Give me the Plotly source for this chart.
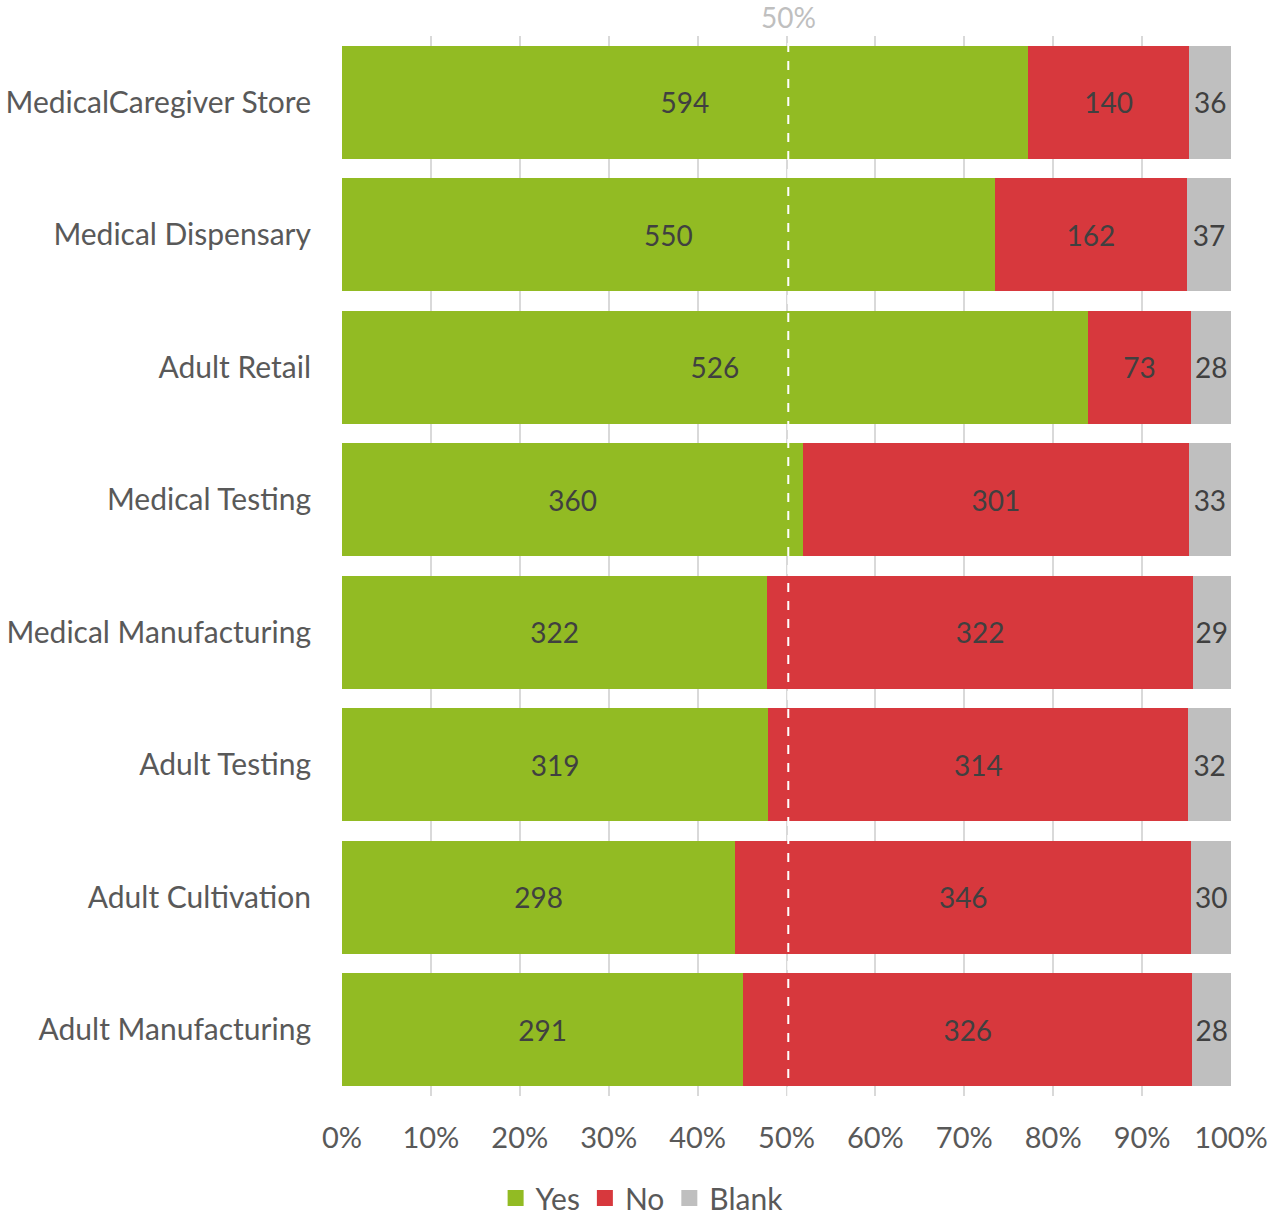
import plotly.graph_objects as go

categories = ["MedicalCaregiver Store", "Medical Dispensary", "Adult Retail", "Medical Testing",
              "Medical Manufacturing", "Adult Testing", "Adult Cultivation", "Adult Manufacturing"]
yes_vals = [594, 550, 526, 360, 322, 319, 298, 291]
no_vals = [140, 162, 73, 301, 322, 314, 346, 326]
blank_vals = [36, 37, 28, 33, 29, 32, 30, 28]
x_ticks = [0, 10, 20, 30, 40, 50, 60, 70, 80, 90, 100]
x_tick_labels = [f"{t}%" for t in x_ticks]

FONT = "Lato, 'Open Sans', sans-serif"
series = [("Yes", yes_vals, "#92BB23"), ("No", no_vals, "#D7383D"), ("Blank", blank_vals, "#BFBFBF")]

fig = go.Figure()
for name, vals, color in series:
    fig.add_trace(go.Bar(
        y=categories, x=vals, name=name, orientation="h",
        marker=dict(color=color, line=dict(width=0)),
        text=[str(v) for v in vals], textposition="inside", insidetextanchor="middle",
        textangle=0, constraintext="none",
        textfont=dict(family=FONT, size=28, color="#404040"),
        hoverinfo="x+y+name", showlegend=False, legendgroup=name,
    ))
# legend entries with larger square swatches
for name, vals, color in series:
    fig.add_trace(go.Scatter(
        x=[None], y=[None], mode="markers", name=name, legendgroup=name,
        marker=dict(symbol="square", size=16, color=color), showlegend=True,
    ))

fig.add_shape(type="line", xref="x", yref="paper", x0=50.2, x1=50.2, y0=0, y1=1,
              line=dict(color="white", width=2, dash="dash"), layer="above")
fig.add_annotation(x=50.2, y=1, xref="x", yref="paper", yshift=0, text="50%", showarrow=False,
                   yanchor="bottom", font=dict(family=FONT, size=28, color="#BFBFBF"))

fig.update_layout(
    width=1269, height=1218,
    barmode="stack", barnorm="percent", bargap=0.15,
    plot_bgcolor="white", paper_bgcolor="white",
    margin=dict(l=342, r=38, t=36, b=122, autoexpand=False),
    font=dict(family=FONT, color="#595959", size=28),
    legend=dict(orientation="h", xref="container", yref="container",
                x=0.506, xanchor="center", y=0.0164, yanchor="middle",
                font=dict(family=FONT, size=30, color="#595959"), traceorder="normal",
                itemsizing="trace"),
    showlegend=True,
)
fig.update_xaxes(range=[0, 100], tickvals=x_ticks, ticktext=x_tick_labels,
                 showgrid=True, gridcolor="#D9D9D9", gridwidth=2, zeroline=False,
                 showline=False, ticks="", ticklabelstandoff=22, automargin=False,
                 tickfont=dict(family=FONT, size=29, color="#595959"), fixedrange=True)
fig.update_yaxes(autorange="reversed", showgrid=False, ticks="", ticklabelstandoff=30,
                 automargin=False,
                 tickfont=dict(family=FONT, size=30, color="#595959"), fixedrange=True)

fig.write_html("out.html", config={"displayModeBar": False},
               post_script="document.body.style.margin='0';document.body.style.overflow='hidden';")
